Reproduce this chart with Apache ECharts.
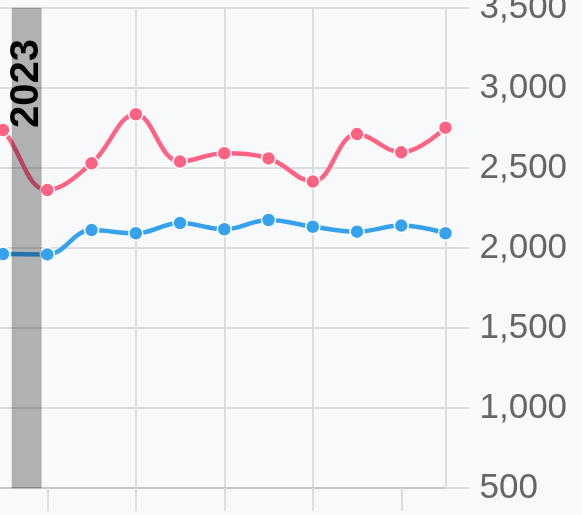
<!DOCTYPE html>
<html>
<head>
<meta charset="utf-8">
<script src="https://cdn.jsdelivr.net/npm/echarts@6/dist/echarts.min.js"></script>
<style>
html,body{margin:0;padding:0;background:#f8f9fb;}
#chart{width:582px;height:515px;}
</style>
</head>
<body>
<div id="chart"></div>
<script>
// x positions are period indices (index 0 lies just left of the visible area)
var periods = [0, 1, 2, 3, 4, 5, 6, 7, 8, 9, 10, 11];
var pinkValues = [3000, 2737, 2362, 2529, 2836, 2540, 2592, 2560, 2415, 2712, 2598, 2752];
var blueValues = [1955, 1962, 1960, 2112, 2092, 2156, 2117, 2175, 2133, 2102, 2140, 2092];
var yTicks = [500, 1000, 1500, 2000, 2500, 3000, 3500];
var xTicks = [2, 4, 6, 8, 10];
var xView = [0.93, 11];
var bandLabel = '2023';
var bandRange = [1.2, 1.865];

function pairs(vals) {
  return periods.map(function (p, i) { return [p, vals[i]]; });
}

var chart = echarts.init(document.getElementById('chart'), null, {renderer: 'canvas'});
var gridColor = '#dcdde0';
chart.setOption({
  backgroundColor: '#f8f9fb',
  animation: false,
  grid: {left: 0, right: 136.5, top: 8, bottom: 27, containLabel: false, outerBoundsMode: 'none'},
  xAxis: {
    type: 'value',
    min: xView[0],
    max: xView[1],
    axisLine: {show: true, lineStyle: {color: '#c6c7ca', width: 2}},
    axisTick: {show: true, length: 23, customValues: xTicks, lineStyle: {color: gridColor, width: 2}},
    axisLabel: {show: false, customValues: xTicks},
    splitLine: {show: true, showMinLine: false, showMaxLine: false, lineStyle: {color: gridColor, width: 2}}
  },
  yAxis: {
    type: 'value',
    position: 'right',
    min: yTicks[0],
    max: yTicks[yTicks.length - 1],
    interval: 500,
    axisLine: {show: true, lineStyle: {color: gridColor, width: 2}},
    axisTick: {show: true, length: 24, lineStyle: {color: gridColor, width: 2}},
    axisLabel: {
      show: true,
      margin: 34,
      color: '#666666',
      fontSize: 35,
      fontFamily: 'Liberation Sans, Arial, sans-serif',
      formatter: function (v) { return v.toLocaleString('en-US'); }
    },
    splitLine: {show: true, lineStyle: {color: gridColor, width: 2}}
  },
  series: [
    {
      type: 'line',
      data: pairs(pinkValues),
      smooth: 0.4,
      showAllSymbol: true,
      symbol: 'circle',
      symbolSize: 14,
      lineStyle: {color: '#ff6384', width: 4.5},
      itemStyle: {color: '#ff6384', borderColor: '#ffffff', borderWidth: 1.5},
      z: 3
    },
    {
      type: 'line',
      data: pairs(blueValues),
      smooth: 0.4,
      showAllSymbol: true,
      symbol: 'circle',
      symbolSize: 14,
      lineStyle: {color: '#36a2eb', width: 4.5},
      itemStyle: {color: '#36a2eb', borderColor: '#ffffff', borderWidth: 1.5},
      z: 3,
      markArea: {
        silent: true,
        z: 10,
        itemStyle: {color: 'rgba(0,0,0,0.29)', borderColor: 'rgba(0,0,0,0.08)', borderWidth: 1},
        label: {
          show: true,
          position: ['50%', 76],
          align: 'center',
          verticalAlign: 'middle',
          rotate: 90,
          color: '#000000',
          fontSize: 40,
          fontWeight: 'bold',
          fontFamily: 'Liberation Sans, Arial, sans-serif'
        },
        data: [[{xAxis: bandRange[0], name: bandLabel}, {xAxis: bandRange[1]}]]
      }
    }
  ]
});
</script>
</body>
</html>
